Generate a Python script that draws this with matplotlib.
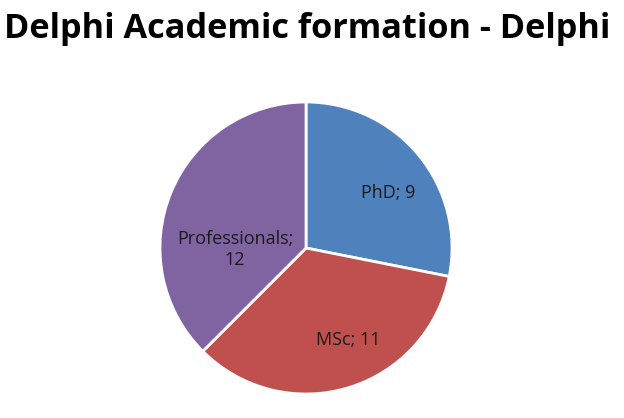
import matplotlib
matplotlib.use("Agg")
import matplotlib.pyplot as plt

categories = ["PhD", "MSc", "Professionals"]
values = [9, 11, 12]
colors = ["#4f81bd", "#c0504d", "#8064a2"]
# label anchor points, in pie radius units (radius = 1)
label_pos = [(0.56, 0.38), (0.29, -0.63), (-0.486, -0.01)]
label_text = ["PhD; 9", "MSc; 11", "Professionals;\n12"]

fig = plt.figure(figsize=(6.24, 4.18), dpi=100)
fig.patch.set_facecolor("white")

fig.text(0.492, 0.93, "Delphi Academic formation - Delphi",
         ha="center", va="center", fontsize=24.7, fontweight="bold",
         family="Open Sans", color="black")

ax = fig.add_axes([0.2564, 0.0574, 0.468, 0.6986])
wedges, _ = ax.pie(values, colors=colors, startangle=90, counterclock=False,
                   radius=1.0, wedgeprops=dict(edgecolor="white", linewidth=2))
for (x, y), t in zip(label_pos, label_text):
    ax.text(x, y, t, ha="center", va="center", fontsize=13,
            family="Open Sans", color="#1a1a1a", linespacing=1.25)
ax.set_xlim(-1.0, 1.0)
ax.set_ylim(-1.0, 1.0)
ax.set_aspect("equal")
ax.axis("off")

fig.savefig("out.png", dpi=100)
